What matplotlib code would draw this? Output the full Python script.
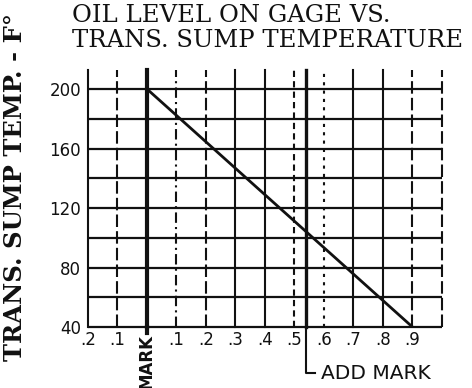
import matplotlib.pyplot as plt

# oil level on gage (marks relative to the MARK line) vs. sump temperature
gage_ticks = [-0.2, -0.1, 0.0, 0.1, 0.2, 0.3, 0.4, 0.5, 0.6, 0.7, 0.8, 0.9]
gage_labels = ['.2', '.1', '', '.1', '.2', '.3', '.4', '.5', '.6', '.7', '.8', '.9']
temp_ticks = [40, 80, 120, 160, 200]
temp_labels = ['40', '80', '120', '160', '200']

level = [0.0, 0.9]
temp = [200, 40]

add_mark = 0.54

fig = plt.figure(figsize=(4.72, 3.88), dpi=100)
ax = fig.add_axes([0.1864, 0.1572, 0.75, 0.6134])
ax.set_xlim(-0.2, 1.0)
ax.set_ylim(40, 200)

ink = '#111111'

# horizontal grid every 20 degrees
for t in range(40, 201, 20):
    ax.plot([-0.2, 1.0], [t, t], color=ink, lw=1.6, solid_capstyle='butt',
            clip_on=False)

# vertical grid, running a bit above the top edge
styles = {-0.2: '-', -0.1: (0, (6, 2)), 0.0: '-', 0.1: (0, (5, 2, 1, 2)),
          0.2: (0, (6, 2)), 0.3: '-', 0.4: '-', 0.5: (0, (3, 2)),
          0.6: (0, (1.5, 2.5)), 0.7: '-', 0.8: '-', 0.9: (0, (6, 2)), 1.0: (0, (6, 2))}
for x, ls in styles.items():
    lw = 3.0 if x == 0.0 else 1.5
    ax.plot([x, x], [40, 213], color=ink, lw=lw, ls=ls, clip_on=False)

# ADD MARK line with its lead-out
ax.plot([add_mark, add_mark], [40, 213], color=ink, lw=2.4, clip_on=False)
ax.plot([add_mark, add_mark, add_mark + 0.03], [40, 9, 9], color=ink, lw=1.5,
        clip_on=False)
ax.text(add_mark + 0.05, 8.5, 'ADD MARK', fontsize=14.5, color=ink, va='center',
        ha='left', clip_on=False)

# MARK line continues below the axis to its label
ax.plot([0, 0], [40, 36], color=ink, lw=3.0, clip_on=False)
ax.text(0, 35.5, 'MARK', rotation=90, fontsize=12, fontweight='bold', color=ink,
        ha='center', va='top', clip_on=False)

ax.plot(level, temp, color=ink, lw=2.0)

for s in ax.spines.values():
    s.set_visible(False)
ax.set_xticks(gage_ticks)
ax.set_xticklabels(gage_labels, fontsize=12, color=ink)
ax.set_yticks(temp_ticks)
ax.set_yticklabels(temp_labels, fontsize=12, color=ink)
ax.tick_params(axis='x', length=0, pad=3)
ax.tick_params(axis='y', length=0, pad=5)

fig.text(0.032, 0.518, 'TRANS. SUMP TEMP. - F°', rotation=90, fontsize=17.5,
         fontweight='bold', family='DejaVu Serif', color=ink, ha='center',
         va='center')
fig.text(0.153, 0.96, 'OIL LEVEL ON GAGE VS.', fontsize=17.5,
         family='DejaVu Serif', color=ink, ha='left', va='center')
fig.text(0.153, 0.895, 'TRANS. SUMP TEMPERATURE', fontsize=17.5,
         family='DejaVu Serif', color=ink, ha='left', va='center')

fig.savefig('out.png', dpi=100, facecolor='white')
